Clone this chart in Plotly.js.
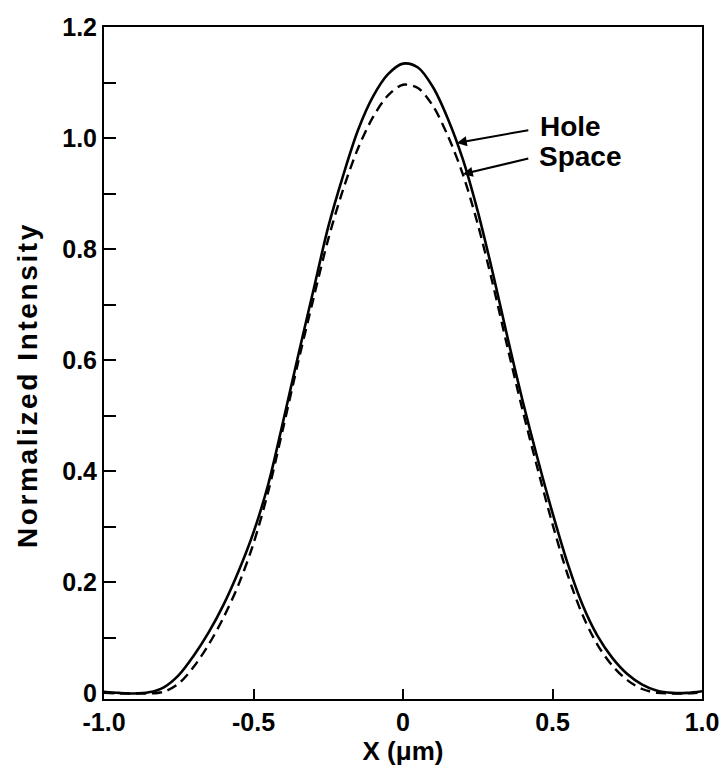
<!DOCTYPE html>
<html>
<head>
<meta charset="utf-8">
<script src="https://cdn.plot.ly/plotly-3.0.1.min.js"></script>
<style>
  html, body { margin: 0; padding: 0; background: #ffffff; }
  #chart { width: 719px; height: 770px; }
  /* the vertical axis caption is set with a little extra tracking */
  #chart .annotation[data-index="4"] text { letter-spacing: 2.6px; }
</style>
</head>
<body>
<div id="chart"></div>
<script>
// Lateral position across the feature, in micrometres
const xPos = [-1.00, -0.95, -0.90, -0.85, -0.80, -0.75, -0.70, -0.65, -0.60, -0.55,
              -0.50, -0.45, -0.40, -0.35, -0.30, -0.25, -0.20, -0.15, -0.10, -0.05,
               0.00,  0.05,  0.10,  0.15,  0.20,  0.25,  0.30,  0.35,  0.40,  0.45,
               0.50,  0.55,  0.60,  0.65,  0.70,  0.75,  0.80,  0.85,  0.90,  0.95, 1.00];

// Normalized aerial-image intensity for the contact hole (solid)
const holeIntensity = [0.003, 0.001, 0.000, 0.002, 0.011, 0.033, 0.068, 0.110, 0.160, 0.220,
                       0.290, 0.378, 0.492, 0.610, 0.725, 0.840, 0.933, 1.015, 1.075, 1.115,
                       1.134, 1.127, 1.092, 1.035, 0.962, 0.868, 0.758, 0.640, 0.527, 0.423,
                       0.325, 0.235, 0.160, 0.104, 0.064, 0.035, 0.016, 0.005, 0.001, 0.001, 0.004];

// Normalized intensity for the space (dashed)
const spaceIntensity = [0.001, 0.000, 0.000, 0.000, 0.003, 0.018, 0.048, 0.088, 0.137, 0.196,
                        0.270, 0.365, 0.480, 0.598, 0.710, 0.818, 0.908, 0.982, 1.038, 1.077,
                        1.096, 1.090, 1.058, 1.004, 0.935, 0.845, 0.738, 0.622, 0.510, 0.405,
                        0.305, 0.215, 0.142, 0.088, 0.050, 0.024, 0.008, 0.001, 0.000, 0.000, 0.002];

const yTickVals = [0, 0.2, 0.4, 0.6, 0.8, 1.0, 1.2];
const yTickText = ['0', '0.2', '0.4', '0.6', '0.8', '1.0', '1.2'];
const yMinorVals = [0.1, 0.3, 0.5, 0.7, 0.9, 1.1];
const xTickVals = [-1.0, -0.5, 0, 0.5, 1.0];
const xTickText = ['-1.0', '-0.5', '0', '0.5', '1.0'];

const seriesNames = ['Hole', 'Space'];
// x positions where the callout arrows touch each curve
const calloutX = [0.18, 0.20];

function interp(xs, ys, x) {
  for (let i = 0; i < xs.length - 1; i++) {
    if (x >= xs[i] && x <= xs[i + 1]) {
      const t = (x - xs[i]) / (xs[i + 1] - xs[i]);
      return ys[i] + t * (ys[i + 1] - ys[i]);
    }
  }
  return ys[ys.length - 1];
}

const FONT = 'Liberation Sans, Arial, Helvetica, sans-serif';

const traces = [
  {
    x: xPos, y: holeIntensity, name: seriesNames[0],
    type: 'scatter', mode: 'lines',
    line: { color: '#000000', width: 2.6, shape: 'spline', smoothing: 0.9 }
  },
  {
    x: xPos, y: spaceIntensity, name: seriesNames[1],
    type: 'scatter', mode: 'lines',
    line: { color: '#000000', width: 2.4, dash: '10px,6px', shape: 'spline', smoothing: 0.9 }
  }
];

const holeHead = { x: calloutX[0], y: interp(xPos, holeIntensity, calloutX[0]) };
const spaceHead = { x: calloutX[1], y: interp(xPos, spaceIntensity, calloutX[1]) };

const layout = {
  width: 719, height: 770,
  margin: { l: 104, r: 17, t: 27, b: 71 },
  paper_bgcolor: '#ffffff', plot_bgcolor: '#ffffff',
  showlegend: false,
  font: { family: FONT, color: '#000000' },
  xaxis: {
    range: [-1, 1],
    tickvals: xTickVals, ticktext: xTickText,
    ticks: 'inside', ticklen: 10, tickwidth: 2, tickcolor: '#000000',
    ticklabeloverflow: 'allow',
    showline: true, linecolor: '#000000', linewidth: 2, mirror: true,
    showgrid: false, zeroline: false,
    tickfont: { family: FONT, size: 25, weight: 'bold' },
    title: { text: 'X (μm)', font: { family: FONT, size: 26, weight: 'bold' }, standoff: 6 }
  },
  yaxis: {
    range: [-0.01, 1.2],
    tickvals: yTickVals, ticktext: yTickText,
    ticks: 'inside', ticklen: 12, tickwidth: 2, tickcolor: '#000000',
    minor: { tickvals: yMinorVals, ticks: 'inside', ticklen: 12, tickwidth: 2, tickcolor: '#000000' },
    showline: true, linecolor: '#000000', linewidth: 2, mirror: true,
    showgrid: false, zeroline: false,
    tickfont: { family: FONT, size: 25, weight: 'bold' }
  },
  annotations: [
    {
      x: holeHead.x, y: holeHead.y, xref: 'x', yref: 'y',
      text: '', showarrow: true, arrowhead: 2, arrowsize: 1, arrowwidth: 2,
      arrowcolor: '#000000', ax: 73, ay: -13
    },
    {
      x: spaceHead.x, y: spaceHead.y, xref: 'x', yref: 'y',
      text: '', showarrow: true, arrowhead: 2, arrowsize: 1, arrowwidth: 2,
      arrowcolor: '#000000', ax: 67, ay: -16
    },
    {
      x: 0.726, y: 0.852, xref: 'paper', yref: 'paper',
      xanchor: 'left', yanchor: 'middle', showarrow: false,
      text: seriesNames[0], font: { family: FONT, size: 28, weight: 'bold' }
    },
    {
      x: 0.724, y: 0.808, xref: 'paper', yref: 'paper',
      xanchor: 'left', yanchor: 'middle', showarrow: false,
      text: seriesNames[1], font: { family: FONT, size: 28, weight: 'bold' }
    },
    {
      // vertical axis caption
      x: -0.128, y: 0.468, xref: 'paper', yref: 'paper',
      xanchor: 'center', yanchor: 'middle', showarrow: false, textangle: -90,
      text: 'Normalized Intensity', font: { family: FONT, size: 28, weight: 'bold' }
    }
  ]
};

Plotly.newPlot('chart', traces, layout, { staticPlot: true, displayModeBar: false });
</script>
</body>
</html>
